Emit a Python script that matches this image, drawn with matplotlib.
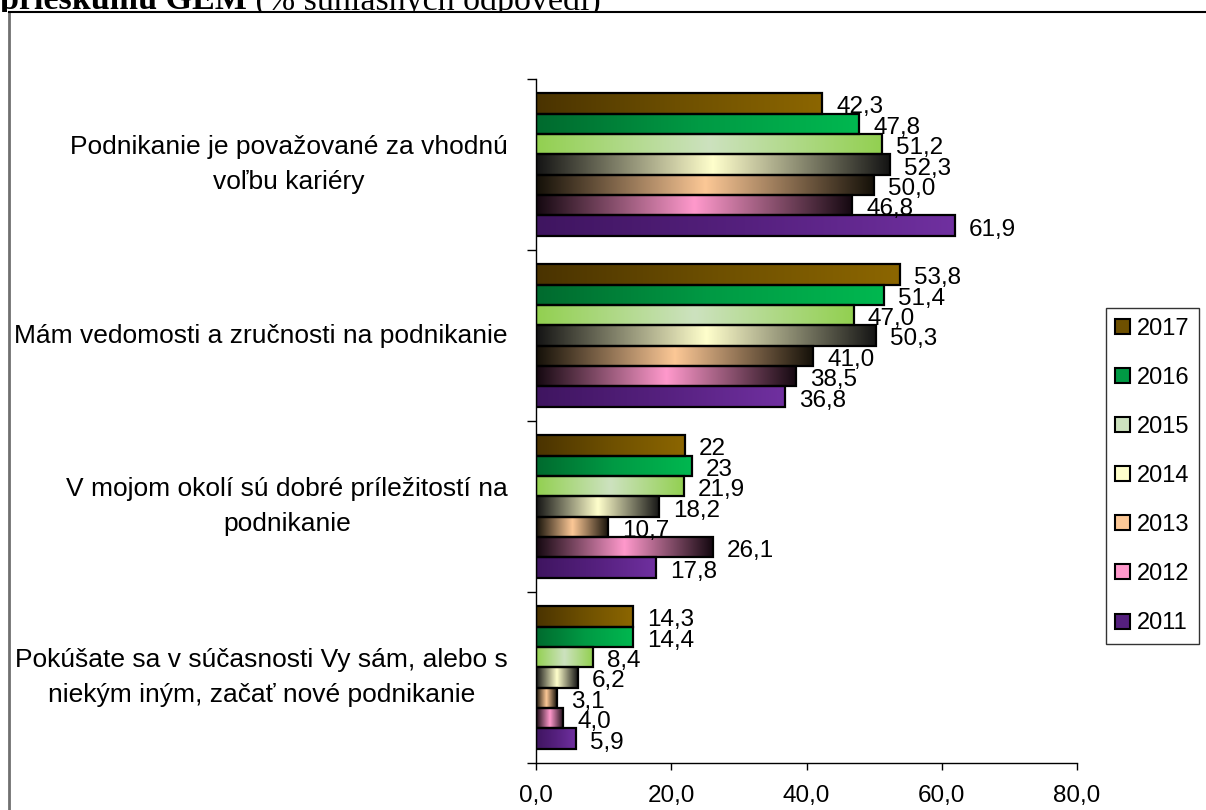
import numpy as np
import matplotlib.pyplot as plt
from matplotlib.colors import LinearSegmentedColormap
from matplotlib.patches import Patch, Rectangle
from matplotlib.lines import Line2D

categories = [
    "Podnikanie je považované za vhodnú\nvoľbu kariéry",
    "Mám vedomosti a zručnosti na podnikanie",
    "V mojom okolí sú dobré príležitostí na\npodnikanie",
    "Pokúšate sa v súčasnosti Vy sám, alebo s\nniekým iným, začať nové podnikanie",
]
years = ["2017", "2016", "2015", "2014", "2013", "2012", "2011"]

v2017 = [42.3, 53.8, 22, 14.3]
v2016 = [47.8, 51.4, 23, 14.4]
v2015 = [51.2, 47.0, 21.9, 8.4]
v2014 = [52.3, 50.3, 18.2, 6.2]
v2013 = [50.0, 41.0, 10.7, 3.1]
v2012 = [46.8, 38.5, 26.1, 4.0]
v2011 = [61.9, 36.8, 17.8, 5.9]
series = [v2017, v2016, v2015, v2014, v2013, v2012, v2011]

xticks = [0, 20, 40, 60, 80]

# horizontal gradient of each year (left -> right)
grad = {
    "2017": ["#4a3300", "#6e5000", "#8c6600"],
    "2016": ["#006a2e", "#009a44", "#00b850"],
    "2015": ["#92d050", "#cde2bf", "#92d050"],
    "2014": ["#141414", "#ffffcc", "#141414"],
    "2013": ["#141008", "#fcc896", "#141008"],
    "2012": ["#140810", "#ff99cc", "#140810"],
    "2011": ["#3f1560", "#55207e", "#7030a0"],
}
legend_col = {"2017": "#6e5000", "2016": "#009a44", "2015": "#cde2bf", "2014": "#ffffcc",
              "2013": "#fcc896", "2012": "#ff99cc", "2011": "#55207e"}

sans = "Liberation Sans"
fs = 17.5

fig = plt.figure(figsize=(12.06, 8.1), dpi=100)
ax = fig.add_axes([536 / 1206, 1 - 763 / 810, (1077 - 536) / 1206, (763 - 79) / 810])

n = len(years)
h = 0.833 / n
ramp = np.linspace(0, 1, 256).reshape(1, -1)
ypos = np.arange(len(categories))[::-1]

for j, (yr, vals) in enumerate(zip(years, series)):
    cmap = LinearSegmentedColormap.from_list(yr, grad[yr])
    yy = ypos + (3 - j) * h
    bars = ax.barh(yy, vals, height=h, facecolor="none", edgecolor="black",
                   linewidth=1.6, zorder=3)
    for b, v in zip(bars, vals):
        x0, y0 = b.get_x(), b.get_y()
        ax.imshow(ramp, cmap=cmap, aspect="auto", zorder=2,
                  extent=[x0, x0 + b.get_width(), y0, y0 + b.get_height()])
        txt = str(v) if isinstance(v, int) else f"{v:.1f}".replace(".", ",")
        ax.annotate(txt, xy=(v, y0 + b.get_height() / 2), xytext=(14, -4),
                    textcoords="offset pixels", ha="left", va="center",
                    fontsize=fs, family=sans, zorder=4)

ax.set_xlim(0, 80)
ax.set_ylim(-0.5, len(categories) - 0.5)
ax.set_xticks(xticks)
ax.set_xticklabels([f"{t:.1f}".replace(".", ",") for t in xticks], fontsize=fs, family=sans)
ax.set_yticks(np.arange(len(categories) + 1) - 0.5)
ax.set_yticklabels([])
for c, y in zip(categories, ypos):
    ax.annotate(c, xy=(0, y), xycoords=("axes fraction", "data"), xytext=(-28, 0),
                textcoords="offset pixels", ha="right", va="center",
                multialignment="center", linespacing=1.6, fontsize=19, family=sans)
ax.tick_params(axis="y", which="major", length=6.5, width=1)
ax.tick_params(axis="x", length=5, width=1, pad=11)
for s in ["top", "right"]:
    ax.spines[s].set_visible(False)
for s in ["left", "bottom"]:
    ax.spines[s].set_linewidth(1)

handles = [Patch(facecolor=legend_col[y], edgecolor="black", linewidth=1.5) for y in years]
leg = fig.legend(handles, years, loc="center left", bbox_to_anchor=(1106 / 1206, 1 - 476 / 810),
                 prop={"family": sans, "size": 17}, frameon=True, fancybox=False,
                 handlelength=0.6, handleheight=0.6, handletextpad=0.3,
                 labelspacing=1.15, borderpad=0.4, borderaxespad=0)
leg.get_frame().set_edgecolor("black")
leg.get_frame().set_linewidth(1)

# title, cut off at the top and hidden below the frame line
t1 = fig.text(0.0, 1 - 9.5 / 810, "prieskumu GEM", family="Liberation Serif",
              fontsize=24.5, fontweight="bold", va="baseline", ha="left", zorder=-3)
t2 = fig.text(0.0, 1 - 9.5 / 810, " (% súhlasných odpovedí)", family="Liberation Serif",
              fontsize=24.5, va="baseline", ha="left", zorder=-3)
fig.canvas.draw()
bb = t1.get_window_extent()
t2.set_position((bb.x1 / fig.bbox.width, 1 - 9.5 / 810))
fig.add_artist(Rectangle((0, 0), 1, 1 - 12 / 810, transform=fig.transFigure,
                         facecolor="white", edgecolor="none", zorder=-2))

# frame of the chart area
fig.add_artist(Line2D([9 / 1206, 9 / 1206], [0, 1 - 12 / 810], color="#707070", linewidth=2))
fig.add_artist(Line2D([9 / 1206, 1], [1 - 12 / 810, 1 - 12 / 810], color="black", linewidth=1.5))

fig.savefig("out.png", dpi=100)
